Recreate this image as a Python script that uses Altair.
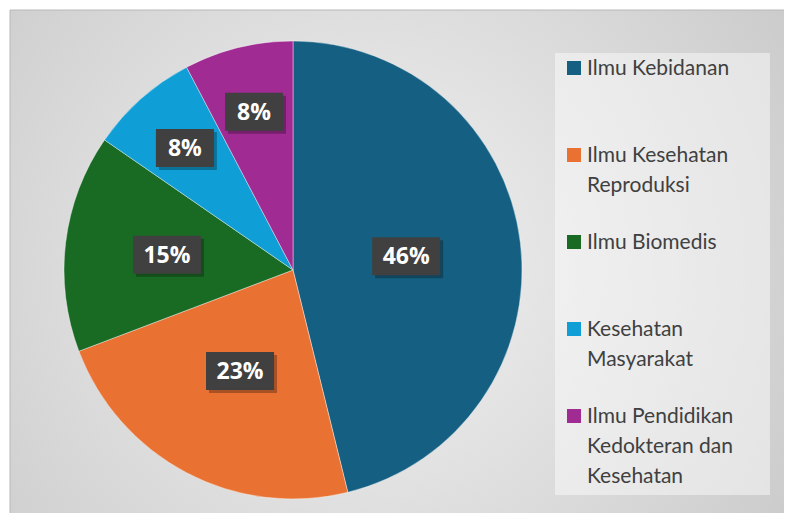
import altair as alt
import pandas as pd

# ---- data ----
categories = [
    "Ilmu Kebidanan",
    "Ilmu Kesehatan Reproduksi",
    "Ilmu Biomedis",
    "Kesehatan Masyarakat",
    "Ilmu Pendidikan Kedokteran dan Kesehatan",
]
legend_labels = [
    "Ilmu Kebidanan",
    "Ilmu Kesehatan\nReproduksi",
    "Ilmu Biomedis",
    "Kesehatan\nMasyarakat",
    "Ilmu Pendidikan\nKedokteran dan\nKesehatan",
]
counts = [6, 3, 2, 1, 1]
colors = ["#156082", "#E97132", "#196B24", "#0F9ED5", "#A02B93"]

df = pd.DataFrame({
    "cat": categories,
    "legend_text": legend_labels,
    "value": counts,
    "idx": list(range(len(categories))),
})
one = pd.DataFrame({"a": [0]})

CX, CY, R = 285, 262, 229

color_scale = alt.Scale(domain=categories, range=colors)

# background panel with radial gradient
bg = alt.Chart(one).mark_rect(
    color=alt.Gradient(
        gradient="radial",
        stops=[alt.GradientStop(color="#f2f2f2", offset=0),
               alt.GradientStop(color="#c4c4c4", offset=1)],
        x1=0.45, y1=0.5, r1=0, x2=0.45, y2=0.5, r2=0.75,
    ),
    stroke="#b8b8b8", strokeWidth=1,
).encode(x=alt.value(2), x2=alt.value(790), y=alt.value(2), y2=alt.value(520))

legend_box = alt.Chart(one).mark_rect(color="white", opacity=0.45).encode(
    x=alt.value(547), x2=alt.value(762), y=alt.value(45), y2=alt.value(487)
)

pie = alt.Chart(df).mark_arc(outerRadius=R, stroke="#ffffff", strokeWidth=0.4).encode(
    theta=alt.Theta("value:Q", stack=True),
    color=alt.Color("cat:N", scale=color_scale, legend=None),
    order=alt.Order("idx:Q"),
    x=alt.value(CX),
    y=alt.value(CY),
)

lab = alt.Chart(df).transform_joinaggregate(
    total="sum(value)"
).transform_window(
    cum="sum(value)", sort=[alt.SortField("idx")], frame=[None, 0]
).transform_calculate(
    frac="datum.value / datum.total",
    mid="(datum.cum - datum.value / 2) / datum.total * 2 * PI",
).transform_calculate(
    lr="datum.frac < 0.1 ? 163 : (datum.frac < 0.2 ? 127 : 114)",
    pct="format(datum.frac, '.0%')",
).transform_calculate(
    lx=f"{CX} + datum.lr * sin(datum.mid)",
    ly=f"{CY} - datum.lr * cos(datum.mid)",
    bw="length(datum.pct) > 2 ? 68 : 58",
).transform_calculate(
    bx1="datum.lx - datum.bw / 2",
    bx2="datum.lx + datum.bw / 2",
    by1="datum.ly - 19",
    by2="datum.ly + 19",
)

shadow = lab.mark_rect(color="black", opacity=0.28, xOffset=3, yOffset=3, x2Offset=3, y2Offset=3).encode(
    x=alt.X("bx1:Q", scale=None), x2="bx2:Q",
    y=alt.Y("by1:Q", scale=None), y2="by2:Q",
)
box = lab.mark_rect(color="#404040").encode(
    x=alt.X("bx1:Q", scale=None), x2="bx2:Q",
    y=alt.Y("by1:Q", scale=None), y2="by2:Q",
)
txt = lab.mark_text(font="Open Sans", fontWeight="bold", fontSize=23, color="white",
                    align="center", baseline="middle", dy=1).encode(
    x=alt.X("lx:Q", scale=None),
    y=alt.Y("ly:Q", scale=None),
    text="pct:N",
)

leg_y = alt.Y("cat:N", scale=alt.Scale(type="point", domain=categories, range=[67, 415], padding=0), axis=None)
leg_sq = alt.Chart(df).mark_square(size=196, opacity=1, yOffset=-7).encode(
    x=alt.value(566), y=leg_y,
    color=alt.Color("cat:N", scale=color_scale, legend=None),
)
leg_txt = alt.Chart(df).mark_text(
    font="Lato", fontSize=21, color="#404040", align="left", baseline="alphabetic",
    lineBreak="\n", lineHeight=30,
).encode(x=alt.value(579), y=leg_y, text="legend_text:N")

chart = alt.layer(bg, legend_box, pie, shadow, box, txt, leg_sq, leg_txt).resolve_scale(
    x="independent", y="independent"
).properties(
    width=776, height=505,
    autosize=alt.AutoSizeParams(type="none"),
    padding=0,
    background="white",
).configure_view(stroke=None)

chart.save("out.html", embed_options={"renderer": "svg", "actions": False})
